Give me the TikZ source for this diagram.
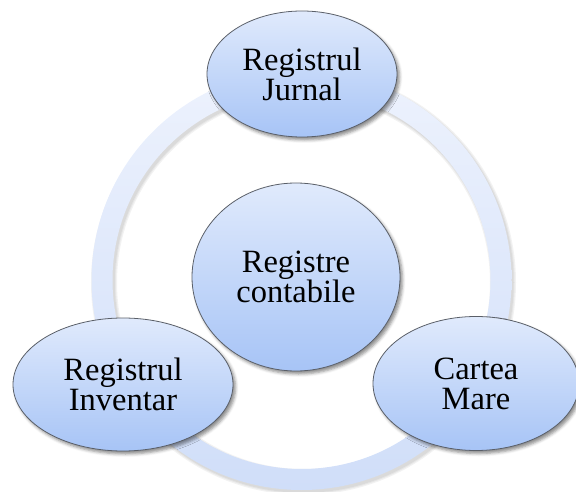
\documentclass[tikz,border=0pt]{standalone}
\usepackage{fontspec}
\setmainfont{Liberation Serif}
\usetikzlibrary{shapes.geometric,shadows.blur}
\definecolor{bubTop}{HTML}{E0EAFC}
\definecolor{bubBot}{HTML}{A7C4F6}
\definecolor{ringTop}{HTML}{EDF2FD}
\definecolor{ringBot}{HTML}{D0DEF9}
\definecolor{rim}{HTML}{5A5F68}
\tikzset{
  bubble/.style={ellipse, draw=rim, line width=0.8pt, inner sep=0pt,
    top color=bubTop, bottom color=bubBot, align=center,
    font=\fontsize{32.5}{30}\selectfont,
    blur shadow={shadow xshift=2.5pt, shadow yshift=-3pt, shadow blur radius=3pt, shadow opacity=45}},
  ringshadow/.style={draw=black, opacity=0.05}
}
\begin{document}
\begin{tikzpicture}[x=1pt,y=-1pt]
\useasboundingbox (0,0) rectangle (576,492);
% cycle ring with a soft shadow
\coordinate (hub) at (301.5,280);
\coordinate (hubsh) at (303.5,282.5);
\foreach \w in {26,23.5,21.5}{
  \draw[ringshadow, line width=\w pt] (hubsh) circle (199.5);
}
\shade[top color=ringTop, bottom color=ringBot, even odd rule]
  (hub) circle (210) (hub) circle (189);
% centre and outer registers
\node[bubble, minimum width=208pt, minimum height=188pt] (centru) at (296,277) {Registre\\contabile};
\node[bubble, minimum width=190pt, minimum height=126pt] (jurnal) at (302,74) {Registrul\\Jurnal};
\node[bubble, minimum width=220pt, minimum height=133pt] (inventar) at (123,384.5) {Registrul\\Inventar};
\node[bubble, minimum width=206pt, minimum height=134pt] (cartea) at (476,383.5) {Cartea\\Mare};
\end{tikzpicture}
\end{document}
